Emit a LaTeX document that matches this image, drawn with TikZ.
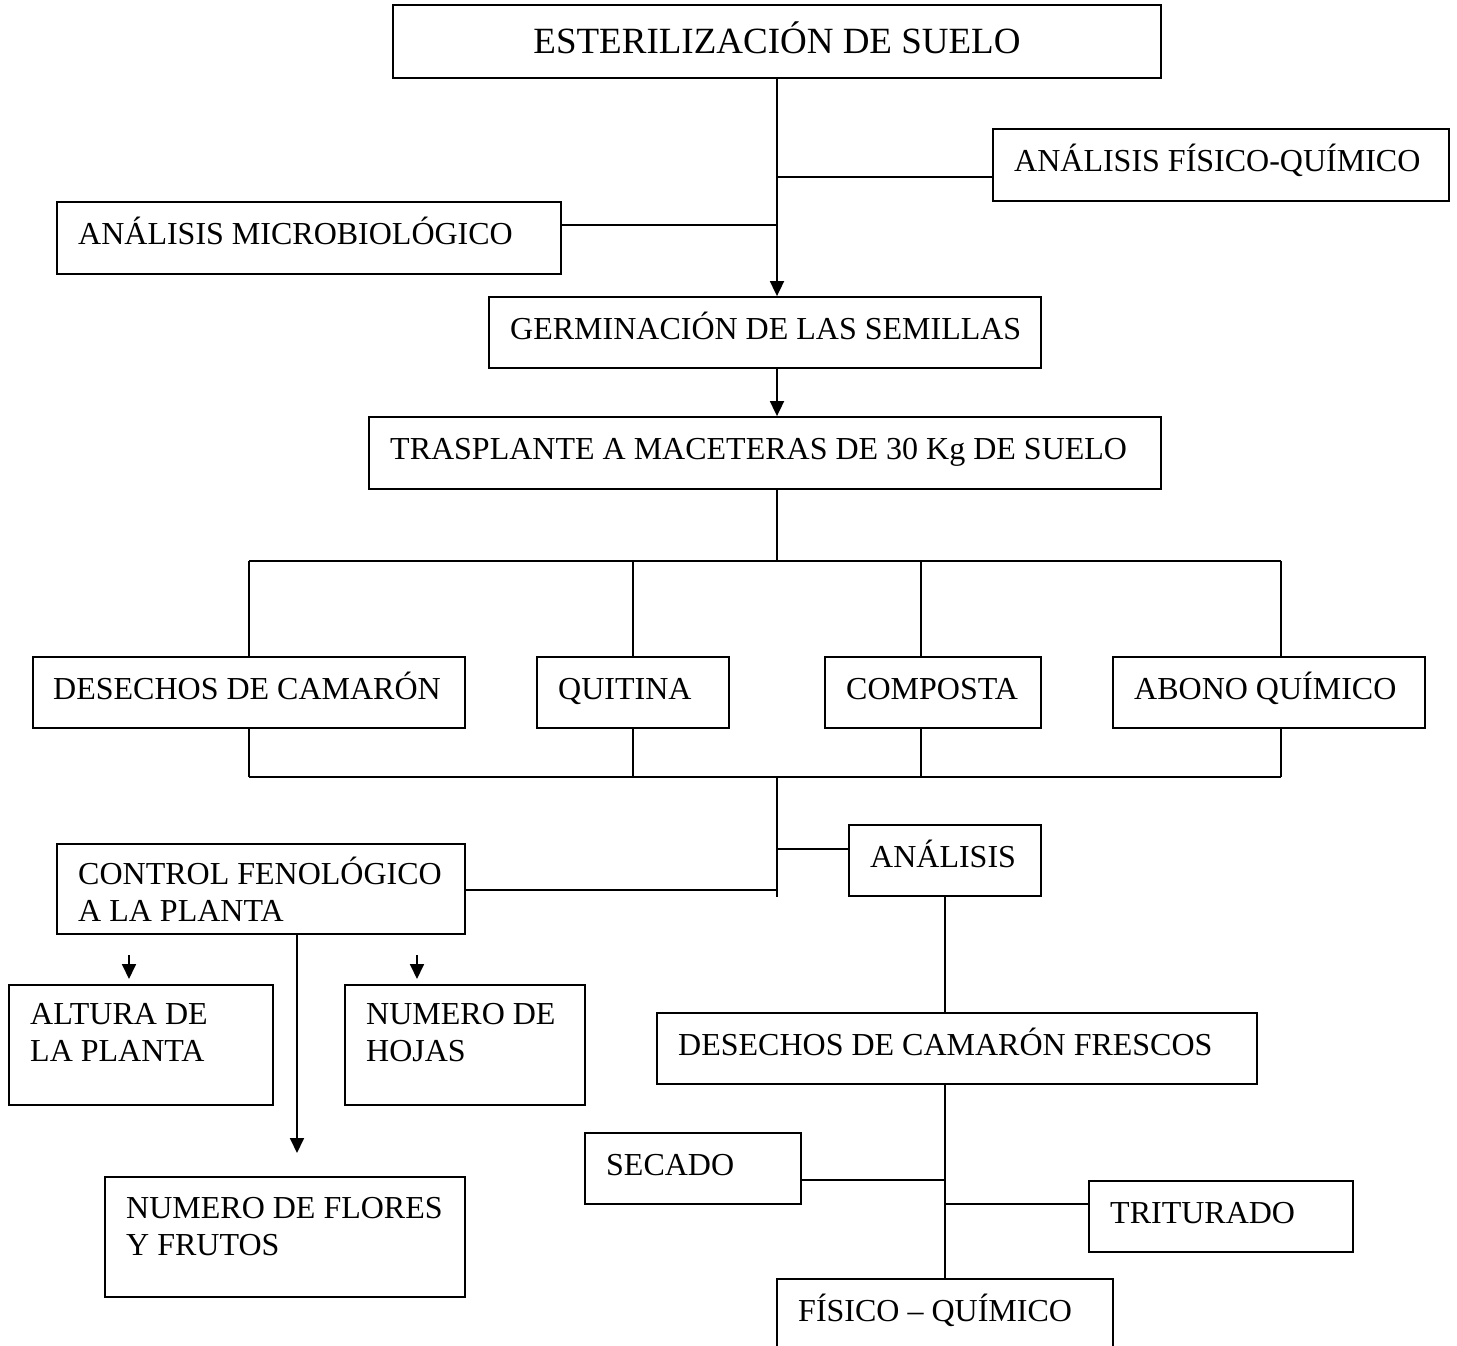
\documentclass[tikz,border=0pt]{standalone}
\usepackage{fontspec}
\setmainfont{Liberation Serif}
\usetikzlibrary{arrows.meta,fit}
\tikzset{
  box/.style={draw, line width=1.8pt, inner sep=0pt},
  lbl/.style={anchor=base west, inner sep=0pt, align=left, font=\fontsize{32}{37}\selectfont},
  ttl/.style={anchor=base, inner sep=0pt, font=\fontsize{37}{42}\selectfont},
  conn/.style={line width=1.8pt},
  arr/.style={conn, -{Triangle[length=15pt,width=14pt]}}
}
\begin{document}
\begin{tikzpicture}[x=1pt,y=-1pt]
\useasboundingbox (0,0) rectangle (1457,1346);
% boxes
\node[box, fit={(393,5)(1161,78)}] (est) {};
\node[ttl] (estt) at (777,54) {ESTERILIZACIÓN DE SUELO};
\node[box, fit={(993,129)(1449,201)}] (fq) {};
\node[lbl] (fqt) at (1014,171) {ANÁLISIS FÍSICO-QUÍMICO};
\node[box, fit={(57,202)(561,274)}] (mic) {};
\node[lbl] (mict) at (78,244) {ANÁLISIS MICROBIOLÓGICO};
\node[box, fit={(489,297)(1041,368)}] (ger) {};
\node[lbl] (gert) at (510,339) {GERMINACIÓN DE LAS SEMILLAS};
\node[box, fit={(369,417)(1161,489)}] (tra) {};
\node[lbl] (trat) at (390,459) {TRASPLANTE A MACETERAS DE 30 Kg DE SUELO};
\node[box, fit={(33,657)(465,728)}] (des) {};
\node[lbl] (dest) at (53,699) {DESECHOS DE CAMARÓN};
\node[box, fit={(537,657)(729,728)}] (qui) {};
\node[lbl] (quit) at (558,699) {QUITINA};
\node[box, fit={(825,657)(1041,728)}] (com) {};
\node[lbl] (comt) at (846,699) {COMPOSTA};
\node[box, fit={(1113,657)(1425,728)}] (abo) {};
\node[lbl] (abot) at (1134,699) {ABONO QUÍMICO};
\node[box, fit={(849,825)(1041,896)}] (ana) {};
\node[lbl] (anat) at (870,867) {ANÁLISIS};
\node[box, fit={(57,844)(465,934)}] (con) {};
\node[lbl] (cont) at (78,921) {CONTROL FENOLÓGICO\\A LA PLANTA};
\node[box, fit={(9,985)(273,1105)}] (alt) {};
\node[lbl] (altt) at (30,1061) {ALTURA DE\\LA PLANTA};
\node[box, fit={(345,985)(585,1105)}] (hoj) {};
\node[lbl] (hojt) at (366,1061) {NUMERO DE\\HOJAS};
\node[box, fit={(105,1177)(465,1297)}] (flo) {};
\node[lbl] (flot) at (126,1255) {NUMERO DE FLORES\\Y FRUTOS};
\node[box, fit={(657,1013)(1257,1084)}] (fre) {};
\node[lbl] (fret) at (678,1055) {DESECHOS DE CAMARÓN FRESCOS};
\node[box, fit={(585,1133)(801,1204)}] (sec) {};
\node[lbl] (sect) at (606,1175) {SECADO};
\node[box, fit={(1089,1181)(1353,1252)}] (tri) {};
\node[lbl] (trit) at (1110,1223) {TRITURADO};
\node[box, fit={(777,1279)(1113,1360)}] (fis) {};
\node[lbl] (fist) at (798,1321) {FÍSICO – QUÍMICO};
% junction coordinates
\coordinate (j1) at (777,177);
\coordinate (j2) at (777,225);
\coordinate (b1) at (777,561);
\coordinate (b2) at (777,777);
\coordinate (j3) at (777,849);
\coordinate (j4) at (777,890);
\coordinate (j5) at (777,897);
\coordinate (t1) at (249,561);
\coordinate (t2) at (633,561);
\coordinate (t3) at (921,561);
\coordinate (t4) at (1281,561);
\coordinate (u1) at (249,777);
\coordinate (u2) at (633,777);
\coordinate (u3) at (921,777);
\coordinate (u4) at (1281,777);
\coordinate (a1s) at (129,955);
\coordinate (a1e) at (129,979);
\coordinate (a2s) at (417,955);
\coordinate (a2e) at (417,979);
\coordinate (a3e) at (297,1153);
\coordinate (j6) at (945,1180);
\coordinate (j7) at (945,1204);
% connectors
\draw[arr] (est.south) -- (est.south |- ger.north);
\draw[conn] (j1) -- (fq.west |- j1);
\draw[conn] (mic.east |- j2) -- (j2);
\draw[arr] (ger.south -| est.south) -- (est.south |- tra.north);
\draw[conn] (tra.south -| est.south) -- (b1);
\draw[conn] (t1) -- (t4);
\draw[conn] (t1) -- (des.north -| t1);
\draw[conn] (t2) -- (qui.north -| t2);
\draw[conn] (t3) -- (com.north -| t3);
\draw[conn] (t4) -- (abo.north -| t4);
\draw[conn] (des.south -| u1) -- (u1);
\draw[conn] (qui.south -| u2) -- (u2);
\draw[conn] (com.south -| u3) -- (u3);
\draw[conn] (abo.south -| u4) -- (u4);
\draw[conn] (u1) -- (u4);
\draw[conn] (b2) -- (j5);
\draw[conn] (j3) -- (ana.west |- j3);
\draw[conn] (con.east |- j4) -- (j4);
\draw[arr] (con.south -| a3e) -- (a3e);
\draw[arr] (a1s) -- (a1e);
\draw[arr] (a2s) -- (a2e);
\draw[conn] (ana.south -| j6) -- (fre.north -| j6);
\draw[conn] (fre.south -| j6) -- (fis.north -| j6);
\draw[conn] (sec.east |- j6) -- (j6);
\draw[conn] (j7) -- (tri.west |- j7);
\end{tikzpicture}
\end{document}
